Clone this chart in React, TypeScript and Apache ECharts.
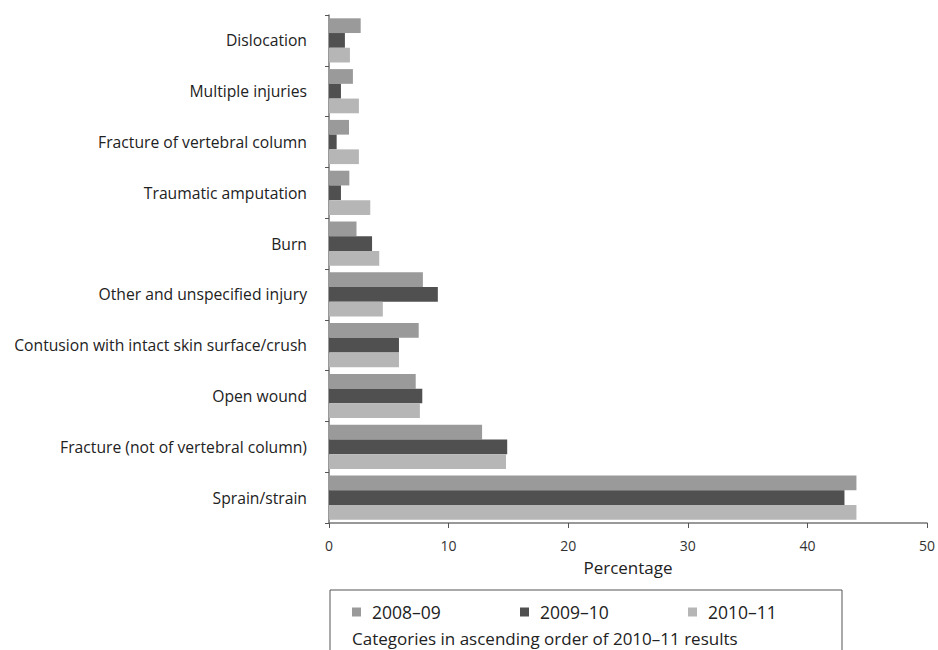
import React, { useEffect, useRef } from "react";
import * as echarts from "echarts";

const categories = [
  "Dislocation",
  "Multiple injuries",
  "Fracture of vertebral column",
  "Traumatic amputation",
  "Burn",
  "Other and unspecified injury",
  "Contusion with intact skin surface/crush",
  "Open wound",
  "Fracture (not of vertebral column)",
  "Sprain/strain",
];

const seriesNames = ["2008–09", "2009–10", "2010–11"];
const values2008 = [2.65, 2.0, 1.67, 1.7, 2.3, 7.85, 7.5, 7.25, 12.8, 44.1];
const values2009 = [1.33, 1.0, 0.64, 1.0, 3.6, 9.1, 5.85, 7.8, 14.9, 43.1];
const values2010 = [1.75, 2.5, 2.5, 3.45, 4.2, 4.5, 5.85, 7.6, 14.8, 44.1];
const xTicks = [0, 10, 20, 30, 40, 50];

const colors = ["#9a9a9a", "#505050", "#b6b6b6"];
const FONT = "'Open Sans', sans-serif";

export default function App() {
  const ref = useRef<HTMLDivElement>(null);
  useEffect(() => {
    if (!ref.current) return;
    const chart = echarts.init(ref.current, undefined, { renderer: "svg" });
    const allValues = [values2008, values2009, values2010];
    const legendX = [352, 520, 688];
    chart.setOption({
      animation: false,
      textStyle: { fontFamily: FONT },
      grid: { left: 329, top: 15, width: 600, height: 508, containLabel: false },
      xAxis: {
        type: "value",
        min: xTicks[0],
        max: xTicks[xTicks.length - 1],
        interval: 10,
        name: "Percentage",
        nameLocation: "middle",
        nameGap: 36,
        nameTextStyle: { fontSize: 17, color: "#222", fontFamily: FONT },
        axisLine: { show: true, lineStyle: { color: "#777", width: 1.5 } },
        axisTick: { show: true, length: 5, lineStyle: { color: "#555" } },
        axisLabel: { margin: 15, fontSize: 14, color: "#333", fontFamily: FONT },
        splitLine: { show: false },
      },
      yAxis: {
        type: "category",
        data: categories,
        inverse: true,
        axisLine: { show: true, lineStyle: { color: "#777", width: 1.5 } },
        axisTick: { show: true, length: 4, lineStyle: { color: "#555" } },
        axisLabel: { margin: 22, fontSize: 15.7, color: "#222", fontFamily: FONT },
      },
      legend: seriesNames.map((n, i) => ({
        data: [n],
        left: legendX[i],
        top: 603,
        itemWidth: 9,
        itemHeight: 9,
        icon: "rect",
        textStyle: { fontSize: 17.5, color: "#222", fontFamily: FONT, padding: [0, 0, 0, 6] },
        padding: 0,
      })),
      graphic: [
        {
          type: "rect",
          shape: { x: 330, y: 590, width: 512, height: 90 },
          style: { fill: "none", stroke: "#555", lineWidth: 1 },
          silent: true,
        },
        {
          type: "text",
          x: 352,
          y: 638,
          style: {
            text: "Categories in ascending order of 2010–11 results",
            fontSize: 17,
            fill: "#222",
            fontFamily: FONT,
            verticalAlign: "middle",
          },
        },
      ],
      series: seriesNames.map((n, i) => ({
        name: n,
        type: "bar",
        data: allValues[i],
        barGap: "0%",
        barCategoryGap: "13%",
        itemStyle: { color: colors[i] },
      })),
    });
    return () => chart.dispose();
  }, []);
  return (
    <div
      ref={ref}
      style={{ position: "fixed", left: 0, top: 0, width: 938, height: 650, background: "#fff" }}
    />
  );
}
